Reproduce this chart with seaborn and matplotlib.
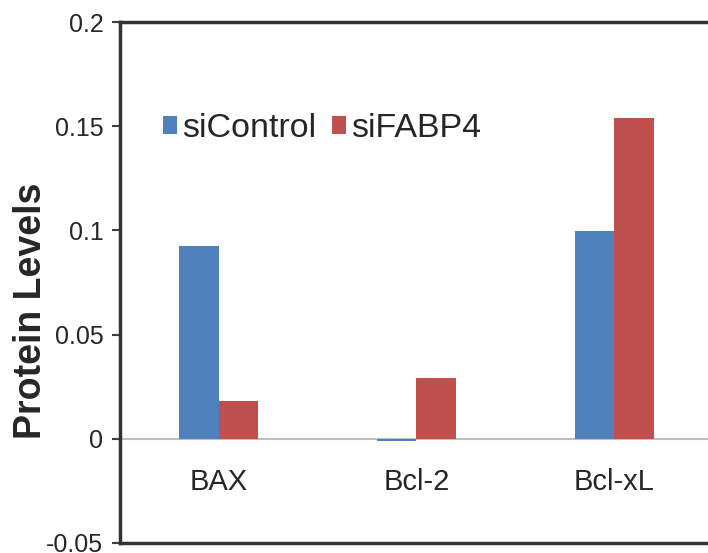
import matplotlib
matplotlib.use("Agg")
import matplotlib.pyplot as plt
import seaborn as sns
import pandas as pd

categories = ["BAX", "Bcl-2", "Bcl-xL"]
series_names = ["siControl", "siFABP4"]
si_control = [0.0925, -0.001, 0.0997]
si_fabp4 = [0.018, 0.029, 0.154]
y_ticks = [-0.05, 0, 0.05, 0.1, 0.15, 0.2]
y_tick_labels = ["-0.05", "0", "0.05", "0.1", "0.15", "0.2"]

sns.set_style("white")
plt.rcParams["font.family"] = ["Liberation Sans", "DejaVu Sans"]

df = pd.DataFrame({
    "Category": categories * 2,
    "Series": [series_names[0]] * 3 + [series_names[1]] * 3,
    "Value": si_control + si_fabp4,
})

fig = plt.figure(figsize=(7.08, 5.53), dpi=100)
ax = fig.add_axes([120 / 708, 1 - 543 / 553, 593 / 708, 521 / 553])

sns.barplot(data=df, x="Category", y="Value", hue="Series",
            palette=["#4F81BD", "#C0504D"], width=0.4, saturation=1,
            linewidth=0, ax=ax, errorbar=None, legend=True)

ax.set_ylim(-0.05, 0.2)
ax.set_xlim(-0.5, 2.5)
ax.axhline(0, color="#BFBFBF", lw=1.5, zorder=0)
ax.set_yticks(y_ticks)
ax.set_yticklabels(y_tick_labels, fontsize=18)
ax.tick_params(axis="y", direction="out", length=6, width=1.5, color="#404040", pad=6, left=True)
ax.tick_params(axis="x", bottom=False, labelbottom=False)
ax.set_xlabel("")
ax.set_ylabel("Protein Levels", fontsize=27, fontweight="bold")
ax.yaxis.set_label_coords(-0.12, 0.445)

for i, c in enumerate(categories):
    ax.text(i, -0.0205, c, ha="center", va="center", fontsize=21)

for side in ["left", "top", "bottom"]:
    ax.spines[side].set_visible(True)
    ax.spines[side].set_linewidth(2.5)
    ax.spines[side].set_color("#333333")
ax.spines["right"].set_visible(False)

leg = ax.legend(loc="center left", bbox_to_anchor=(0.072, 0.795), ncol=2, frameon=False,
                fontsize=24.5, handlelength=0.42, handleheight=0.42, handletextpad=0.15,
                columnspacing=0.45, borderaxespad=0, borderpad=0)

fig.savefig("out.png", dpi=100)
